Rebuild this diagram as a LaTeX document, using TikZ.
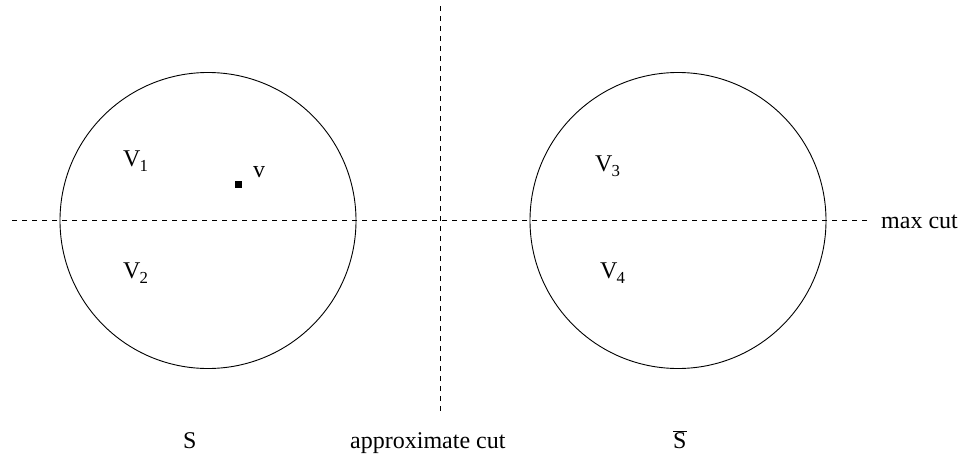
\documentclass[tikz,border=0pt]{standalone}
\usepackage{fontspec}
\setmainfont{Liberation Serif}
\begin{document}
\begin{tikzpicture}[x=1pt,y=-1pt,line cap=butt,
  part/.style={circle,draw,line width=0.9pt,minimum size=296pt,inner sep=0pt},
  cutline/.style={line width=0.9pt,dash pattern=on 5pt off 5pt},
  lbl/.style={inner sep=0pt,anchor=base west,font=\fontsize{24}{28}\selectfont}]
  \useasboundingbox (0,0) rectangle (963,458);
  % the two sides
  \node[part] (left) at (208,220.5) {};
  \node[part] (right) at (678,220.5) {};
  % cuts
  \coordinate (hl) at (12,220.5);
  \coordinate (hr) at (870,220.5);
  \coordinate (vt) at (440,6);
  \coordinate (vb) at (440,413);
  \draw[cutline] (hl) -- (hr);
  \draw[cutline] (vt) -- (vb);
  % vertex v
  \fill (234.5,180.5) rectangle (241.5,187.5);
  \node[lbl] (vv) at (253,177) {v};
  \node[lbl] (v1) at (123,166) {V\kern-1pt\raisebox{-2pt}{\textsubscript{1}}};
  \node[lbl] (v2) at (123,278) {V\kern-1pt\raisebox{-2pt}{\textsubscript{2}}};
  \node[lbl] (v3) at (595,171) {V\kern-1pt\raisebox{-2pt}{\textsubscript{3}}};
  \node[lbl] (v4) at (600,278) {V\kern-1pt\raisebox{-2pt}{\textsubscript{4}}};
  \node[lbl] (maxc) at (881,228) {max cut};
  \node[lbl] (s) at (183,448) {S};
  \node[lbl] (apx) at (350,448) {approximate cut};
  \node[lbl] (sbar) at (673,448) {$\overline{\mbox{S}}$};
\end{tikzpicture}
\end{document}
